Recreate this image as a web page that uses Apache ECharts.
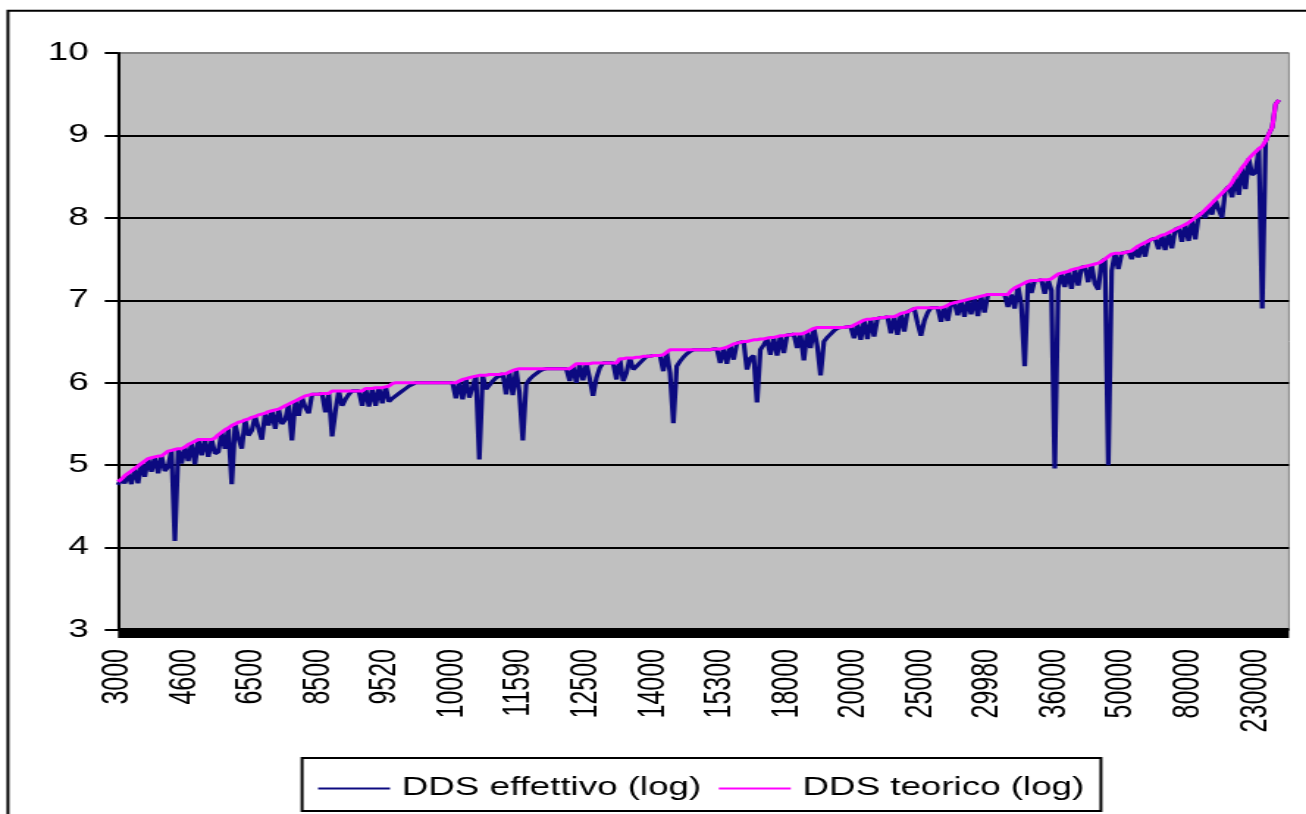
<!DOCTYPE html>
<html>
<head>
<meta charset="utf-8">
<script src="https://cdn.jsdelivr.net/npm/echarts@6/dist/echarts.min.js"></script>
<style>
  html, body { margin: 0; padding: 0; background: #ffffff; overflow: hidden; }
  #wrap { position: absolute; left: 0; top: 0; width: 889px; height: 814px;
          transform: scaleX(1.46907); transform-origin: 0 0; }
</style>
</head>
<body>
<div id="wrap"></div>
<script>
// Visible x tick labels (one every 20 categories)
const tickLabels = ['3000','4600','6500','8500','9520','10000','11590','12500','14000','15300','18000','20000','25000','29980','36000','50000','80000','230000'];
const labelEvery = 20;

// Series names
const seriesNames = ['DDS effettivo (log)', 'DDS teorico (log)'];

// DDS teorico (log)
const teorico = [
4.80,4.83,4.87,4.90,4.93,4.96,4.99,5.02,5.05,5.08,
5.09,5.10,5.11,5.11,5.14,5.17,5.18,5.19,5.20,5.20,
5.22,5.25,5.27,5.29,5.31,5.31,5.31,5.31,5.31,5.33,
5.37,5.40,5.43,5.45,5.48,5.50,5.52,5.53,5.55,5.56,
5.58,5.59,5.61,5.62,5.63,5.65,5.66,5.67,5.68,5.70,
5.72,5.74,5.76,5.78,5.80,5.82,5.84,5.85,5.86,5.86,
5.86,5.87,5.87,5.87,5.90,5.90,5.90,5.90,5.90,5.90,
5.90,5.90,5.90,5.90,5.93,5.93,5.93,5.94,5.94,5.94,
5.95,5.96,5.99,6.00,6.00,6.00,6.00,6.00,6.00,6.00,
6.00,6.00,6.00,6.00,6.00,6.00,6.00,6.00,6.00,6.00,
6.00,6.00,6.02,6.04,6.05,6.06,6.07,6.08,6.09,6.09,
6.09,6.10,6.10,6.10,6.10,6.11,6.11,6.13,6.15,6.16,
6.17,6.17,6.17,6.17,6.17,6.17,6.17,6.17,6.17,6.17,
6.17,6.17,6.17,6.17,6.17,6.17,6.20,6.23,6.23,6.23,
6.23,6.23,6.24,6.24,6.24,6.24,6.24,6.24,6.24,6.24,
6.29,6.29,6.30,6.30,6.30,6.31,6.31,6.32,6.32,6.32,
6.33,6.33,6.33,6.34,6.37,6.40,6.40,6.40,6.40,6.40,
6.40,6.40,6.40,6.40,6.40,6.40,6.40,6.40,6.41,6.41,
6.41,6.42,6.43,6.45,6.47,6.48,6.49,6.50,6.50,6.51,
6.52,6.52,6.53,6.53,6.54,6.55,6.55,6.56,6.57,6.57,
6.58,6.58,6.59,6.59,6.59,6.60,6.62,6.64,6.66,6.67,
6.67,6.67,6.67,6.67,6.67,6.67,6.67,6.67,6.68,6.68,
6.70,6.72,6.74,6.76,6.77,6.77,6.78,6.78,6.79,6.79,
6.80,6.80,6.80,6.82,6.84,6.85,6.86,6.88,6.90,6.91,
6.91,6.91,6.91,6.91,6.91,6.91,6.91,6.92,6.94,6.96,
6.97,6.98,6.99,7.00,7.01,7.02,7.03,7.04,7.05,7.06,
7.07,7.07,7.07,7.07,7.07,7.07,7.07,7.12,7.15,7.17,
7.19,7.21,7.23,7.24,7.24,7.24,7.25,7.25,7.25,7.26,
7.29,7.32,7.33,7.34,7.35,7.37,7.38,7.39,7.40,7.41,
7.42,7.43,7.44,7.45,7.47,7.50,7.53,7.56,7.57,7.57,
7.57,7.58,7.59,7.60,7.63,7.66,7.68,7.70,7.72,7.74,
7.75,7.77,7.79,7.80,7.82,7.84,7.86,7.88,7.90,7.92,
7.94,7.97,8.00,8.03,8.06,8.10,8.14,8.18,8.22,8.26,
8.30,8.34,8.38,8.43,8.50,8.55,8.61,8.66,8.72,8.76,
8.80,8.84,8.87,8.93,9.02,9.10,9.38,9.43
];

// DDS effettivo (log)
const effettivo = [
4.76,4.83,4.78,4.90,4.77,4.96,4.78,5.02,4.86,5.08,
4.92,5.10,4.90,5.11,4.93,4.98,5.18,4.08,5.20,5.02,
5.22,5.05,5.27,5.01,5.31,5.12,5.31,5.10,5.31,5.14,
5.16,5.40,5.20,5.45,4.77,5.50,5.33,5.20,5.55,5.36,
5.42,5.59,5.45,5.31,5.63,5.48,5.66,5.44,5.68,5.50,
5.55,5.74,5.30,5.78,5.60,5.82,5.70,5.63,5.86,5.86,
5.86,5.87,5.64,5.87,5.35,5.66,5.90,5.72,5.80,5.86,
5.90,5.90,5.90,5.72,5.93,5.71,5.93,5.72,5.94,5.75,
5.95,5.77,5.81,5.84,5.87,5.90,5.93,5.96,5.98,6.00,
6.00,6.00,6.00,6.00,6.00,6.00,6.00,6.00,6.00,6.00,
6.00,5.81,6.02,5.80,6.05,5.82,5.95,6.08,5.07,6.09,
5.92,5.97,6.02,6.06,6.08,6.11,5.86,6.13,5.85,6.16,
5.88,5.30,5.98,6.04,6.08,6.11,6.14,6.16,6.17,6.17,
6.17,6.17,6.17,6.17,6.17,6.02,6.20,6.00,6.23,6.03,
6.23,6.05,5.84,6.06,6.18,6.24,6.24,6.24,6.24,6.04,
6.29,6.02,6.12,6.30,6.16,6.20,6.24,6.28,6.32,6.32,
6.33,6.33,6.33,6.14,6.37,6.12,5.51,6.20,6.26,6.31,
6.35,6.38,6.40,6.40,6.40,6.40,6.40,6.40,6.41,6.41,
6.24,6.42,6.23,6.45,6.28,6.48,6.49,6.50,6.16,6.30,
6.33,5.76,6.40,6.46,6.53,6.34,6.55,6.33,6.57,6.36,
6.58,6.58,6.59,6.42,6.59,6.27,6.62,6.42,6.66,6.45,
6.09,6.50,6.55,6.59,6.63,6.66,6.67,6.67,6.68,6.68,
6.54,6.72,6.52,6.76,6.53,6.77,6.56,6.78,6.79,6.79,
6.80,6.60,6.80,6.58,6.84,6.62,6.86,6.88,6.90,6.72,
6.57,6.75,6.85,6.91,6.91,6.91,6.74,6.92,6.75,6.96,
6.97,6.82,6.99,6.80,7.01,6.83,7.03,6.81,7.05,6.85,
7.07,7.07,7.07,7.07,7.07,7.07,6.92,7.07,6.90,7.17,
6.95,6.20,7.23,7.09,7.24,7.24,7.25,7.08,7.25,7.12,
4.96,7.15,7.33,7.16,7.35,7.14,7.38,7.18,7.40,7.41,
7.22,7.43,7.20,7.13,7.47,7.50,5.00,7.36,7.57,7.38,
7.57,7.58,7.59,7.50,7.63,7.52,7.68,7.53,7.72,7.74,
7.75,7.62,7.79,7.61,7.82,7.63,7.86,7.88,7.71,7.92,
7.72,7.97,7.74,8.03,8.06,8.00,8.14,8.04,8.22,8.10,
8.00,8.34,8.38,8.25,8.50,8.28,8.61,8.35,8.72,8.52,
8.55,8.84,6.90,8.93,9.02,9.10,9.38,9.43
];

// Category names: the labelled positions carry the tick label text
const categories = teorico.map((v, i) => (i % labelEvery === 0 ? (tickLabels[i / labelEvery] || '') : ''));

const FONT = "'Liberation Sans', Arial, sans-serif";
const chart = echarts.init(document.getElementById('wrap'), null, { renderer: 'canvas' });

chart.setOption({
  animation: false,
  backgroundColor: '#ffffff',
  textStyle: { fontFamily: FONT },
  graphic: [
    { type: 'rect', z: 0, silent: true,
      shape: { x: 5.4, y: 10.7, width: 2000, height: 2000 },
      style: { fill: 'none', stroke: '#000', lineWidth: 2 } },
    { type: 'rect', z: 1, silent: true,
      shape: { x: 205.6, y: 758, width: 543.8, height: 53 },
      style: { fill: '#fff', stroke: '#000', lineWidth: 2 } }
  ],
  legend: {
    z: 10,
    data: seriesNames,
    left: 216.5, top: 776,
    padding: 0,
    icon: 'rect',
    itemWidth: 49, itemHeight: 2, itemGap: 12,
    textStyle: { fontSize: 25, color: '#000', fontFamily: FONT, padding: [0, 0, 0, 3] },
    selectedMode: false
  },
  grid: {
    left: 80.3, right: 11.6, top: 53, bottom: 184,
    show: true, backgroundColor: '#c0c0c0', borderColor: '#808080', borderWidth: 1,
    containLabel: false
  },
  xAxis: {
    type: 'category',
    data: categories,
    boundaryGap: false,
    max: 350,
    offset: 3,
    axisLine: { show: true, lineStyle: { color: '#000', width: 10, cap: 'butt' } },
    axisTick: { show: false },
    axisLabel: { rotate: 90, interval: labelEvery - 1, fontSize: 25, color: '#000', margin: 16, fontFamily: FONT },
    splitLine: { show: false }
  },
  yAxis: {
    type: 'value',
    min: 3, max: 10, interval: 1,
    axisLine: { show: true, lineStyle: { color: '#000', width: 2 } },
    axisTick: { show: true, length: 9, lineStyle: { color: '#000', width: 2 } },
    axisLabel: { fontSize: 25, color: '#000', margin: 20, fontFamily: FONT },
    splitLine: { show: true, lineStyle: { color: ['#000','#000','#000','#000','#000','#000','#000','#808080'], width: 2 } }
  },
  series: [
    { name: seriesNames[0], type: 'line', data: effettivo, symbol: 'none', z: 2,
      lineStyle: { color: '#0c0a80', width: 3.2 }, itemStyle: { color: '#0c0a80' } },
    { name: seriesNames[1], type: 'line', data: teorico, symbol: 'none', z: 3,
      lineStyle: { color: '#ff00ff', width: 3 }, itemStyle: { color: '#ff00ff' } }
  ]
});
</script>
</body>
</html>
